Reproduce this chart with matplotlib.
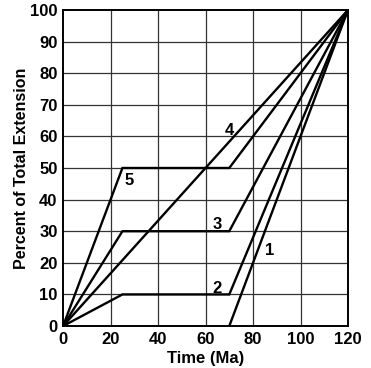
import matplotlib
matplotlib.use("Agg")
from matplotlib import pyplot as plt

plt.rcParams['font.family'] = ['Liberation Sans', 'DejaVu Sans']
plt.rcParams['font.weight'] = 'bold'

# Extension histories (time in Ma, percent of total extension)
curve_ids = ['1', '2', '3', '4', '5']
time_1 = [70, 120]
ext_1 = [0, 100]
time_2 = [0, 25, 70, 120]
ext_2 = [0, 10, 10, 100]
time_3 = [0, 25, 70, 120]
ext_3 = [0, 30, 30, 100]
time_4 = [0, 120]
ext_4 = [0, 100]
time_5 = [0, 25, 70, 120]
ext_5 = [0, 50, 50, 100]

label_x = [87, 65, 65, 70, 28]
label_y = [24, 12, 32, 62, 46]

fig = plt.figure(figsize=(3.71, 3.68), dpi=100)
ax = fig.add_axes([0.170, 0.114, 0.768, 0.859])

# grid
for gx in range(20, 120, 20):
    ax.axvline(gx, color='#333333', lw=0.9, zorder=1)
for gy in range(10, 100, 10):
    ax.axhline(gy, color='#333333', lw=0.9, zorder=1)

for t, e in [(time_1, ext_1), (time_2, ext_2), (time_3, ext_3),
             (time_4, ext_4), (time_5, ext_5)]:
    ax.plot(t, e, color='black', lw=1.7, zorder=3, solid_joinstyle='miter')

for cid, lx, ly in zip(curve_ids, label_x, label_y):
    ax.text(lx, ly, cid, fontsize=12, fontweight='bold', ha='center',
            va='center', zorder=4)

ax.set_xlim(0, 120)
ax.set_ylim(0, 100)
ax.set_xticks(range(0, 121, 20))
ax.set_yticks(range(0, 101, 10))
ax.tick_params(length=0, labelsize=12, pad=4)
for lab in ax.get_xticklabels() + ax.get_yticklabels():
    lab.set_fontweight('bold')
for s in ax.spines.values():
    s.set_linewidth(1.4)

ax.set_xlabel('Time (Ma)', fontsize=12, fontweight='bold', labelpad=3)
ax.set_ylabel('Percent of Total Extension', fontsize=11.5, fontweight='bold', labelpad=1)

fig.savefig('out.png', dpi=100)
